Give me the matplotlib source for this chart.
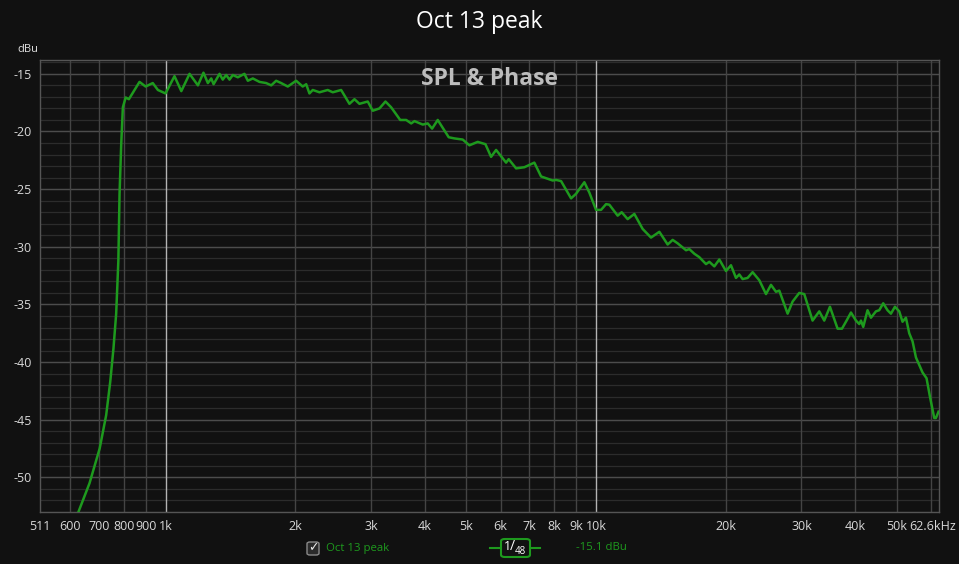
import matplotlib
matplotlib.use("Agg")
import matplotlib.pyplot as plt
from matplotlib.patches import FancyBboxPatch
from matplotlib.lines import Line2D
from matplotlib.transforms import ScaledTranslation

plt.rcParams['font.family'] = ['Open Sans', 'DejaVu Sans']

title = "Oct 13 peak"
series_name = "Oct 13 peak"
freq_hz = [626, 666, 703, 728, 744, 757, 768, 777, 782, 789, 796, 808, 822, 870, 899, 934, 960, 1000,
           1049, 1088, 1137, 1189, 1225, 1254, 1277, 1293, 1335, 1358, 1383, 1408, 1433, 1472, 1525, 1553,
           1595, 1653, 1713, 1760, 1807, 1856, 1923, 2011, 2083, 2122, 2159, 2198, 2278, 2381, 2446, 2558,
           2674, 2747, 2821, 2949, 3029, 3140, 3242, 3342, 3508, 3622, 3721, 3786, 3958, 4064, 4161, 4288,
           4548, 4688, 4901, 5079, 5310, 5534, 5704, 5859, 6180, 6267, 6521, 6816, 7189, 7452, 7720, 7929,
           8075, 8293, 8750, 8987, 9393, 9648, 10000, 10271, 10549, 10737, 11225, 11468, 11841, 12272,
           12829, 13418, 14028, 14665, 15064, 15472, 16181, 16467, 16913, 17371, 18005, 18327, 18823,
           19332, 20034, 20576, 21135, 21512, 21897, 22490, 23100, 23943, 24814, 25486, 26176, 26645,
           27858, 28611, 29648, 30450, 31834, 32995, 33888, 34934, 36392, 37258, 38186, 39094, 40152,
           40862, 41238, 41745, 42716, 43501, 44678, 45478, 46452, 47534, 48409, 49457, 50609, 51503,
           52449, 53389, 54343, 55342, 57325, 58567, 59641, 61030, 61580, 62440]
level_dbu = [-53.1, -50.5, -47.5, -44.6, -41.7, -38.8, -35.8, -31.2, -25.4, -21.1, -17.9, -17.05, -17.2,
             -15.7, -16.1, -15.8, -16.4, -16.7,
             -15.2, -16.5, -15.0, -16.0, -14.9, -15.8, -15.4, -15.9, -15.0, -15.5, -15.1, -15.5, -15.1,
             -15.3, -15.0, -15.6, -15.4, -15.7, -15.8, -16.0, -15.6, -15.8, -16.1, -15.6, -16.1, -15.9,
             -16.7, -16.4, -16.6, -16.4, -16.6, -16.4, -17.6, -17.2, -17.6, -17.4, -18.2, -18.0, -17.4,
             -17.9, -19.0, -19.0, -19.3, -19.1, -19.4, -19.3, -19.75, -19.0, -20.5, -20.6, -20.7, -21.2,
             -20.9, -21.1, -22.2, -21.6, -22.7, -22.4, -23.2, -23.1, -22.7, -23.9, -24.1, -24.25, -24.2,
             -24.3, -25.8, -25.4, -24.4, -25.3, -26.8, -26.8, -26.3, -26.35, -27.3, -27.0, -27.6, -27.15,
             -28.45, -29.2, -28.7, -29.8, -29.4, -29.7, -30.3, -30.2, -30.6, -30.9, -31.5, -31.3, -31.7,
             -31.1, -32.1, -31.6, -32.7, -32.4, -32.8, -32.7, -32.2, -32.9, -34.1, -33.3, -33.9, -33.8,
             -35.8, -34.75, -34.0, -34.1, -36.4, -35.6, -36.4, -35.2, -37.1, -37.1, -36.4, -35.7, -36.4,
             -36.7, -36.4, -36.95, -35.5, -36.15, -35.6, -35.5, -34.9, -35.5, -35.8, -35.2, -35.6, -36.5,
             -36.15, -37.5, -38.2, -39.6, -40.9, -41.4, -43.0, -44.85, -44.85, -44.3]

x_ticks = [511, 600, 700, 800, 900, 1000, 2000, 3000, 4000, 5000, 6000, 7000, 8000, 9000, 10000,
           20000, 30000, 40000, 50000, 62600]
x_tick_labels = ["511", "600", "700", "800", "900", "1k", "2k", "3k", "4k", "5k", "6k", "7k", "8k",
                 "9k", "10k", "20k", "30k", "40k", "50k", "62.6kHz"]
x_grid = [600, 700, 800, 900, 2000, 3000, 4000, 5000, 6000, 7000, 8000, 9000,
          20000, 30000, 40000, 50000, 60000]
x_grid_bright = [1000, 10000]
y_ticks = [-15, -20, -25, -30, -35, -40, -45, -50]
y_minor = list(range(-53, -13))
cursor_text = "-15.1 dBu"

BG = '#111111'
GREEN = '#1e9a1e'

fig = plt.figure(figsize=(9.59, 5.64), dpi=100, facecolor=BG)
ax = fig.add_axes([40/959, 52/564, 899/959, 452/564], facecolor=BG)
ax.set_xscale('log')
ax.set_xlim(511, 62600)
ax.set_ylim(-53.0, -13.8)

for y in y_minor:
    ax.axhline(y, color='#2c2c2c', lw=0.9, zorder=1)
for y in y_ticks:
    ax.axhline(y, color='#4c4c4c', lw=1.0, zorder=1.5)
for x in x_grid:
    ax.axvline(x, color='#444444', lw=1.0, zorder=1.5)
for x in x_grid_bright:
    ax.axvline(x, color='#b4b4b4', lw=1.0, zorder=1.6)

ax.plot(freq_hz, level_dbu, color=GREEN, lw=1.8, zorder=3, solid_joinstyle='round')

ax.set_xticks(x_ticks)
ax.set_xticklabels(x_tick_labels)
ax.minorticks_off()
ax.set_yticks(y_ticks)
ax.set_yticklabels([str(v) for v in y_ticks])
ax.tick_params(axis='both', length=0, colors='#d8d8d8', labelsize=9)
ax.tick_params(axis='x', pad=6)
ax.tick_params(axis='y', pad=6)
last = ax.get_xticklabels()[-1]
last.set_transform(last.get_transform() + ScaledTranslation(-6/100, 0, fig.dpi_scale_trans))
for s in ax.spines.values():
    s.set_color('#555555')
    s.set_linewidth(1.0)

fig.text(479/959, 1 - 22/564, title, ha='center', va='center', color='white', fontsize=16.5)
fig.text(28/959, 1 - 49/564, "dBu", ha='center', va='center', color='#e0e0e0', fontsize=8)
fig.text(489/959, 1 - 79/564, "SPL & Phase", ha='center', va='center', color='#bdbdbd',
         fontsize=16.5, fontweight='bold')

# legend row
cb = FancyBboxPatch((307/959, 1 - 555/564), 12/959, 13/564,
                    boxstyle="round,pad=0,rounding_size=0.003", transform=fig.transFigure,
                    facecolor='#2a2a2a', edgecolor='#8a8a8a', lw=1.0)
fig.patches.append(cb)
fig.text(313/959, 1 - 548/564, "\u2713", ha='center', va='center', color='#e8e8e8', fontsize=9,
         family=['DejaVu Sans'])
fig.text(326/959, 1 - 548/564, series_name, ha='left', va='center', color=GREEN, fontsize=8.2)
fig.lines.append(Line2D([490/959, 540/959], [1 - 548/564, 1 - 548/564], transform=fig.transFigure,
                        color=GREEN, lw=1.5))
lb = FancyBboxPatch((501/959, 1 - 557/564), 29/959, 18/564,
                    boxstyle="round,pad=0,rounding_size=0.004", transform=fig.transFigure,
                    facecolor=BG, edgecolor=GREEN, lw=1.5, zorder=3)
fig.patches.append(lb)
fig.text(507/959, 1 - 546/564, "1", ha='center', va='center', color='white', fontsize=9)
fig.text(512/959, 1 - 547/564, "/", ha='center', va='center', color='white', fontsize=10)
fig.text(520/959, 1 - 551/564, "48", ha='center', va='center', color='white', fontsize=7)
fig.text(576/959, 1 - 548/564, cursor_text, ha='left', va='center', color=GREEN, fontsize=8.2)

fig.savefig('out.png', dpi=100, facecolor=BG)
